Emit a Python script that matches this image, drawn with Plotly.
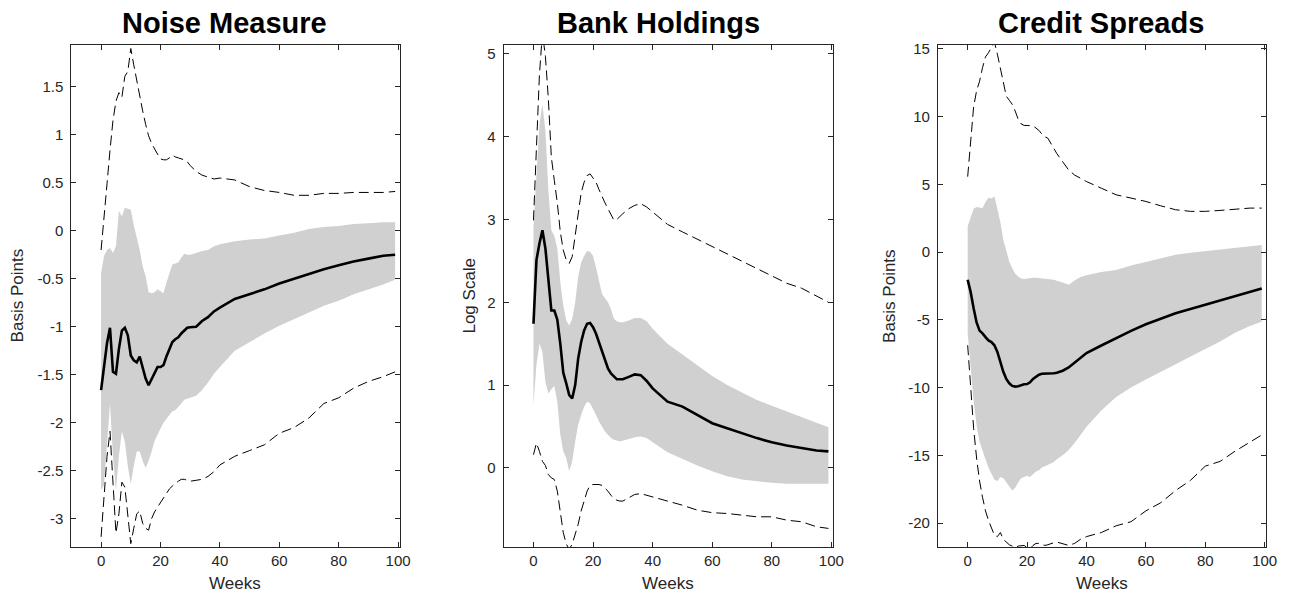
import plotly.graph_objects as go

# ---------------- data ----------------
WEEKS = list(range(0, 31)) + [32, 34, 36, 38, 40, 45, 50, 55, 60, 65, 70, 75, 80, 85, 90, 95, 99]

# Noise Measure
NOISE_MED = [-1.66, -1.40, -1.17, -1.01, -1.47, -1.49, -1.23, -1.04, -1.01, -1.09, -1.30, -1.35, -1.37, -1.31,
             -1.44, -1.54, -1.61, -1.55, -1.49, -1.42, -1.42, -1.40, -1.31, -1.23, -1.16, -1.13, -1.11, -1.07,
             -1.04, -1.01, -1.005,
             -1.00, -0.94, -0.90, -0.84, -0.80, -0.71, -0.66, -0.61, -0.55, -0.50, -0.45, -0.40, -0.36, -0.32,
             -0.29, -0.26, -0.25]
NOISE_UP = [-0.44, -0.26, -0.20, -0.18, -0.23, -0.16, 0.21, 0.15, 0.24, 0.23, 0.22, 0.06, -0.06, -0.20, -0.37,
            -0.47, -0.64, -0.65, -0.64, -0.61, -0.63, -0.65, -0.54, -0.44, -0.35, -0.34, -0.33, -0.28, -0.24,
            -0.25, -0.25,
            -0.23, -0.21, -0.20, -0.16, -0.14, -0.11, -0.09, -0.08, -0.05, -0.02, 0.02, 0.04, 0.05, 0.07, 0.08,
            0.09, 0.09]
NOISE_LO = [-2.70, -2.65, -2.25, -1.80, -2.35, -2.71, -2.35, -2.09, -2.20, -2.45, -2.64, -2.45, -2.30, -2.30,
            -2.40, -2.47, -2.40, -2.30, -2.19, -2.12, -2.06, -2.00, -1.95, -1.92, -1.88, -1.87, -1.83, -1.80,
            -1.76, -1.75, -1.74,
            -1.72, -1.66, -1.58, -1.49, -1.42, -1.25, -1.16, -1.07, -0.99, -0.92, -0.85, -0.78, -0.73, -0.66,
            -0.61, -0.56, -0.51]
NOISE_UPD = [-0.20, 0.18, 0.49, 0.84, 1.15, 1.35, 1.44, 1.39, 1.61, 1.66, 1.90, 1.73, 1.56, 1.39, 1.25, 1.11,
             0.99, 0.91, 0.85, 0.80, 0.75, 0.74, 0.74, 0.76, 0.79, 0.77, 0.76, 0.75, 0.74, 0.72, 0.68,
             0.62, 0.58, 0.56, 0.54, 0.55, 0.53, 0.46, 0.42, 0.40, 0.37, 0.37, 0.39, 0.39, 0.40, 0.40, 0.40, 0.41]
NOISE_LOD = [-3.19, -2.80, -2.35, -2.09, -2.60, -3.15, -2.95, -2.62, -2.67, -2.95, -3.26, -3.10, -2.95, -2.92,
             -3.05, -3.10, -3.12, -3.00, -2.93, -2.88, -2.83, -2.79, -2.74, -2.69, -2.66, -2.63, -2.61, -2.59,
             -2.59, -2.60, -2.61,
             -2.60, -2.59, -2.56, -2.51, -2.44, -2.35, -2.29, -2.23, -2.11, -2.05, -1.95, -1.80, -1.74, -1.64,
             -1.57, -1.52, -1.47]

# Bank Holdings
BANK_MED = [1.74, 2.51, 2.71, 2.87, 2.65, 2.30, 1.90, 1.90, 1.79, 1.50, 1.15, 1.02, 0.88, 0.84, 1.00, 1.32,
            1.52, 1.66, 1.74, 1.75, 1.70, 1.62, 1.52, 1.42, 1.30, 1.20, 1.14, 1.10, 1.07, 1.07, 1.07,
            1.10, 1.13, 1.12, 1.05, 0.96, 0.80, 0.74, 0.64, 0.54, 0.48, 0.42, 0.36, 0.31, 0.27, 0.24, 0.21, 0.20]
BANK_UP = [2.91, 3.59, 4.15, 4.39, 4.07, 3.35, 2.87, 2.80, 2.65, 2.25, 1.96, 1.78, 1.72, 1.80, 2.00, 2.31,
           2.48, 2.56, 2.62, 2.61, 2.56, 2.42, 2.25, 2.10, 2.05, 2.00, 1.92, 1.80, 1.77, 1.76, 1.76,
           1.78, 1.81, 1.81, 1.77, 1.68, 1.50, 1.37, 1.24, 1.11, 1.00, 0.91, 0.82, 0.75, 0.68, 0.61, 0.54, 0.49]
BANK_LO = [0.76, 1.25, 1.50, 1.40, 1.04, 0.90, 0.95, 0.99, 0.80, 0.40, 0.20, 0.12, -0.04, 0.08, 0.32, 0.52,
           0.64, 0.74, 0.80, 0.78, 0.72, 0.64, 0.56, 0.50, 0.44, 0.40, 0.36, 0.34, 0.33, 0.32, 0.33,
           0.35, 0.37, 0.38, 0.36, 0.31, 0.19, 0.11, 0.03, -0.04, -0.10, -0.14, -0.16, -0.18, -0.19, -0.19,
           -0.19, -0.19]
BANK_UPD = [2.99, 3.91, 4.75, 5.25, 4.97, 4.45, 3.75, 3.47, 3.20, 2.85, 2.63, 2.51, 2.47, 2.55, 2.81, 3.12,
            3.32, 3.45, 3.53, 3.55, 3.50, 3.45, 3.36, 3.27, 3.20, 3.13, 3.06, 2.99, 3.00, 3.04, 3.07,
            3.13, 3.17, 3.19, 3.15, 3.09, 2.94, 2.85, 2.76, 2.67, 2.58, 2.49, 2.40, 2.31, 2.23, 2.17, 2.08, 2.00]
BANK_LOD = [0.16, 0.30, 0.20, 0.08, 0.03, -0.08, -0.12, -0.14, -0.28, -0.55, -0.78, -0.92, -0.98, -0.92, -0.80,
            -0.68, -0.52, -0.40, -0.28, -0.21, -0.20, -0.20, -0.20, -0.21, -0.24, -0.28, -0.33, -0.37, -0.39,
            -0.40, -0.40,
            -0.36, -0.32, -0.31, -0.33, -0.35, -0.40, -0.45, -0.51, -0.54, -0.55, -0.57, -0.59, -0.59, -0.63,
            -0.65, -0.71, -0.73]

# Credit Spreads
CREDIT_MED = [-2.05, -2.96, -4.15, -5.20, -5.80, -6.00, -6.28, -6.52, -6.64, -6.88, -7.37, -8.10, -8.84, -9.37,
              -9.69, -9.88, -9.93, -9.90, -9.81, -9.76, -9.74, -9.61, -9.37, -9.20, -9.05, -8.98, -8.98, -8.99,
              -8.98, -8.95, -8.91,
              -8.76, -8.52, -8.18, -7.81, -7.45, -6.90, -6.35, -5.82, -5.33, -4.90, -4.52, -4.20, -3.88, -3.55,
              -3.25, -2.95, -2.70]
CREDIT_UP = [1.90, 2.60, 3.20, 3.33, 3.30, 3.25, 3.70, 4.00, 3.95, 4.10, 3.20, 2.20, 0.90, 0.00, -0.70, -1.20,
             -1.60, -1.80, -1.95, -2.00, -1.95, -1.92, -1.90, -1.90, -1.92, -1.93, -1.95, -1.97, -2.00, -2.05,
             -2.12,
             -2.24, -2.42, -2.10, -1.85, -1.71, -1.47, -1.32, -1.00, -0.72, -0.47, -0.21, -0.05, 0.07, 0.22,
             0.34, 0.44, 0.51]
CREDIT_LO = [-6.0, -8.5, -11.0, -12.8, -14.0, -14.6, -15.3, -15.9, -16.4, -16.8, -16.9, -16.6, -16.7, -17.0,
             -17.3, -17.6, -17.4, -17.0, -16.7, -16.6, -16.5, -16.6, -16.4, -16.2, -16.1, -15.9, -15.8, -15.7,
             -15.6, -15.5, -15.3,
             -15.0, -14.6, -14.1, -13.5, -12.9, -11.7, -10.7, -10.0, -9.4, -8.8, -8.25, -7.7, -7.15, -6.6,
             -5.95, -5.45, -5.15]
CREDIT_UPD = [5.56, 8.24, 10.7, 11.9, 12.6, 13.6, 14.4, 14.7, 15.1, 15.5, 14.6, 13.6, 12.4, 11.5, 11.2, 10.9,
              10.4, 9.8, 9.46, 9.34, 9.34, 9.34, 9.30, 9.15, 8.97, 8.70, 8.50, 8.40, 8.00, 7.65, 7.27,
              6.66, 6.05, 5.68, 5.44, 5.20, 4.71, 4.22, 3.98, 3.73, 3.41, 3.12, 3.00, 3.00, 3.07, 3.17, 3.24, 3.24]
CREDIT_LOD = [-6.88, -10.1, -13.0, -15.2, -16.9, -18.1, -19.1, -19.8, -20.4, -20.9, -21.0, -20.7, -21.2, -21.4,
              -21.6, -21.7, -21.8, -21.7, -21.65, -21.65, -21.8, -21.9, -21.65, -21.5, -21.5, -21.55, -21.65,
              -21.6, -21.5, -21.45, -21.4,
              -21.5, -21.65, -21.5, -21.2, -21.0, -20.7, -20.2, -19.9, -19.1, -18.5, -17.6, -16.85, -15.8,
              -15.45, -14.7, -14.0, -13.5]

TITLES = ["Noise Measure", "Bank Holdings", "Credit Spreads"]
YLABELS = ["Basis Points", "Log Scale", "Basis Points"]
XLABEL = "Weeks"

X_TICKS = [0, 20, 40, 60, 80, 100]
X_TICKTEXT = ["0", "20", "40", "60", "80", "100"]
NOISE_YTICKS = [-3, -2.5, -2, -1.5, -1, -0.5, 0, 0.5, 1, 1.5]
NOISE_YTICKTEXT = ["-3", "-2.5", "-2", "-1.5", "-1", "-0.5", "0", "0.5", "1", "1.5"]
BANK_YTICKS = [0, 1, 2, 3, 4, 5]
BANK_YTICKTEXT = ["0", "1", "2", "3", "4", "5"]
CREDIT_YTICKS = [-20, -15, -10, -5, 0, 5, 10, 15]
CREDIT_YTICKTEXT = ["-20", "-15", "-10", "-5", "0", "5", "10", "15"]

# ---------------- layout geometry ----------------
W, H = 1297, 602
PLOT_X = [(72, 403), (508, 840), (946, 1277)]
PLOT_Y = (40, 547)
YRANGES = [(-3.3, 1.94), (-0.96, 5.11), (-21.8, 15.3)]
XRANGE = (-10, 100.5)
YLABEL_X = [18, 474, 897]
TITLE_X = [226, 664, 1110]

FONT = "Liberation Sans, Arial, Helvetica, sans-serif"
AX_COLOR = "#262626"
BAND = "rgb(208,208,208)"

panels = [
    (NOISE_MED, NOISE_UP, NOISE_LO, NOISE_UPD, NOISE_LOD, NOISE_YTICKS, NOISE_YTICKTEXT),
    (BANK_MED, BANK_UP, BANK_LO, BANK_UPD, BANK_LOD, BANK_YTICKS, BANK_YTICKTEXT),
    (CREDIT_MED, CREDIT_UP, CREDIT_LO, CREDIT_UPD, CREDIT_LOD, CREDIT_YTICKS, CREDIT_YTICKTEXT),
]

fig = go.Figure()
annotations = []
layout_axes = {}

for i, (med, up, lo, upd, lod, yt, ytt) in enumerate(panels):
    n = "" if i == 0 else str(i + 1)
    xa, ya = "x" + n, "y" + n
    # band polygon
    fig.add_trace(go.Scatter(
        x=WEEKS + WEEKS[::-1], y=up + lo[::-1], xaxis=xa, yaxis=ya,
        fill="toself", fillcolor=BAND, line=dict(width=0), mode="lines",
        hoverinfo="skip", showlegend=False))
    for series in (upd, lod):
        fig.add_trace(go.Scatter(
            x=WEEKS, y=series, xaxis=xa, yaxis=ya, mode="lines",
            line=dict(color="black", width=1, dash="10px,5px"), showlegend=False))
    fig.add_trace(go.Scatter(
        x=WEEKS, y=med, xaxis=xa, yaxis=ya, mode="lines",
        line=dict(color="black", width=2.6), showlegend=False))

    x0, x1 = PLOT_X[i]
    common = dict(showline=True, linecolor=AX_COLOR, linewidth=1, mirror="ticks",
                  ticks="inside", ticklen=5, tickcolor=AX_COLOR, tickwidth=1,
                  showgrid=False, zeroline=False,
                  tickfont=dict(family=FONT, size=15, color=AX_COLOR))
    layout_axes["xaxis" + n] = dict(
        domain=[x0 / W, x1 / W], range=list(XRANGE), anchor=ya,
        tickvals=X_TICKS, ticktext=X_TICKTEXT, **common)
    layout_axes["yaxis" + n] = dict(
        domain=[1 - PLOT_Y[1] / H, 1 - PLOT_Y[0] / H], range=list(YRANGES[i]), anchor=xa,
        tickvals=yt, ticktext=ytt, ticklabelstandoff=4, **common)

    cx = (x0 + x1) / 2 / W
    annotations.append(dict(text="<b>%s</b>" % TITLES[i], x=TITLE_X[i] / W, y=1 - 18 / H,
                            xref="paper", yref="paper",
                            xanchor="center", yanchor="middle", showarrow=False,
                            font=dict(family=FONT, size=29, color="black")))
    annotations.append(dict(text=XLABEL, x=cx, y=1 - 583 / H, xref="paper", yref="paper",
                            xanchor="center", yanchor="middle", showarrow=False,
                            font=dict(family=FONT, size=17, color=AX_COLOR)))
    annotations.append(dict(text=YLABELS[i], x=YLABEL_X[i] / W, y=1 - 293 / H, xref="paper", yref="paper",
                            xanchor="center", yanchor="middle", showarrow=False, textangle=-90,
                            font=dict(family=FONT, size=17, color=AX_COLOR)))

fig.update_layout(width=W, height=H, margin=dict(l=0, r=0, t=0, b=0),
                  paper_bgcolor="white", plot_bgcolor="white", showlegend=False,
                  annotations=annotations, **layout_axes)

fig.write_html("out.html")
